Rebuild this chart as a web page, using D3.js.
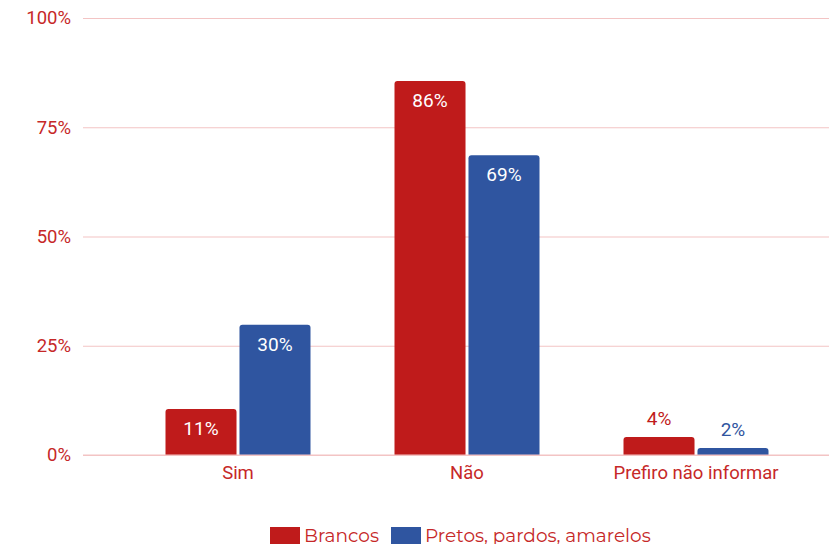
<!DOCTYPE html>
<html><head><meta charset="utf-8">
<script src="https://cdn.jsdelivr.net/npm/d3@7"></script>
<style>body{margin:0;background:#fff}svg{display:block}</style>
</head><body>
<svg id="c" width="829" height="544"></svg>
<script>
const categories = ["Sim", "Não", "Prefiro não informar"];
const seriesNames = ["Brancos", "Pretos, pardos, amarelos"];
const brancosValues = [10.5, 85.6, 4.1];
const pretosValues = [29.8, 68.6, 1.6];
const yTicks = [0, 25, 50, 75, 100];
const colors = ["#bf1b1b", "#2f55a0"];

const svg = d3.select("#c");
const y = d3.scaleLinear().domain([0, 100]).range([455, 18]);
const x = d3.scaleBand().domain(categories).range([123.5, 810.5]);
const xs = d3.scaleBand().domain(seriesNames).range([-72.5, 72.5]).paddingInner(0.04);

const txt = "#c62828";
const font = "Roboto, Arial, sans-serif";
// grid
const yAxis = d3.axisLeft(y).tickValues(yTicks).tickFormat(d => d + "%").tickSize(-746).tickPadding(12);
const gy = svg.append("g").attr("transform", "translate(83,0)").call(yAxis);
gy.select(".domain").remove();
gy.selectAll("line").attr("stroke", "#f3c4c4").attr("stroke-width", 1.2);
gy.selectAll("text").attr("fill", txt).style("font-family", font).style("font-size", "18.5px");

const data = [];
categories.forEach((c, i) => {
  data.push({c, s: seriesNames[0], v: brancosValues[i], k: 0});
  data.push({c, s: seriesNames[1], v: pretosValues[i], k: 1});
});

function barPath(x0, x1, yt, yb, r) {
  r = Math.min(r, (yb - yt));
  return `M${x0},${yb}V${yt + r}Q${x0},${yt} ${x0 + r},${yt}H${x1 - r}Q${x1},${yt} ${x1},${yt + r}V${yb}Z`;
}
svg.append("g").selectAll("path").data(data).join("path")
  .attr("d", d => {
    const x0 = x(d.c) + x.bandwidth() / 2 + xs(d.s);
    return barPath(x0, x0 + xs.bandwidth(), y(d.v), y(0), 3);
  })
  .attr("fill", d => colors[d.k]);

svg.append("g").selectAll("text").data(data).join("text")
  .attr("x", d => x(d.c) + x.bandwidth() / 2 + xs(d.s) + xs.bandwidth() / 2)
  .attr("y", d => d.v > 10 ? y(d.v) + 26 : y(d.v) - 12)
  .attr("text-anchor", "middle")
  .attr("fill", d => d.v > 10 ? "#fff" : colors[d.k])
  .style("font-family", font).style("font-size", "19px")
  .text(d => Math.round(d.v) + "%");

// x axis labels
const xAxis = d3.axisBottom(x).tickSize(0).tickPadding(11);
const gx = svg.append("g").attr("transform", "translate(0,455)").call(xAxis);
gx.select(".domain").remove();
gx.selectAll("text").attr("fill", txt).style("font-family", font).style("font-size", "18.5px");

// baseline
svg.append("line").attr("x1", 83).attr("x2", 829).attr("y1", y(0)).attr("y2", y(0)).attr("stroke", "#f3c4c4").attr("stroke-width", 1.2);

// legend
const leg = svg.append("g").style("font-family", "Montserrat, 'Open Sans', sans-serif").style("font-size", "18.5px");
const lx = [270, 391];
seriesNames.forEach((s, i) => {
  leg.append("rect").attr("x", lx[i]).attr("y", 527).attr("width", 30).attr("height", 18).attr("fill", colors[i]);
  leg.append("text").attr("x", lx[i] + 34).attr("y", 542).attr("fill", txt).text(s);
});
</script>
</body></html>
